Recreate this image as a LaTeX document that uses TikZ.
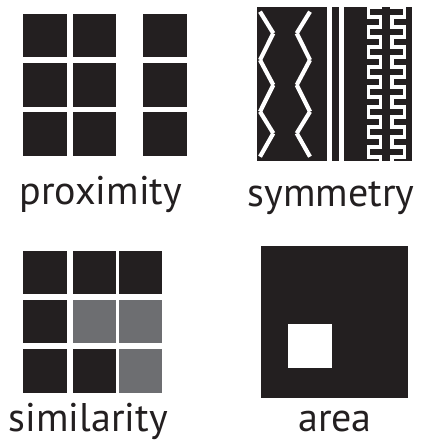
\documentclass[tikz,border=0pt]{standalone}
\usepackage{fontspec}
\setmainfont{PT Sans}
\definecolor{ink}{HTML}{231F20}
\definecolor{gry}{HTML}{6D6E71}
\begin{document}
\begin{tikzpicture}[x=1pt,y=-1pt,
  sq/.style={fill=ink},
  gsq/.style={fill=gry},
  lbl/.style={font=\fontsize{40}{44}\selectfont, text=ink, anchor=base, inner sep=0pt},
  zz/.style={draw=white, line width=4.2pt},
  mw/.style={draw=white, line width=3.7pt, line join=miter}]
\useasboundingbox (0,0) rectangle (421,441);
% proximity
\foreach \x in {23.3,72.7,143.3}
  \foreach \y in {14,63.3,112.3}
    \path[sq] (\x,\y) rectangle ++(43.5,43.4);
\node[lbl] (prox) at (100.8,204) {proximity};
% symmetry
\path[sq] (257.3,7.3) rectangle (327.3,161);
\path[sq] (332.3,7.3) rectangle (338.7,161);
\path[sq] (343.7,7.3) rectangle (411.7,161);
\foreach \ya/\yb [count=\i] in {11.7/33.3,33.3/60,60/85,85/111.7,111.7/133.3,133.3/156.7}{
  \pgfmathsetmacro{\xa}{ifthenelse(isodd(\i),260,273.3)}
  \pgfmathsetmacro{\xb}{ifthenelse(isodd(\i),273.3,260)}
  \draw[zz] (\xa,\ya) -- (\xb,\yb);
  \pgfmathsetmacro{\xc}{ifthenelse(isodd(\i),310,296.7)}
  \pgfmathsetmacro{\xd}{ifthenelse(isodd(\i),296.7,310)}
  \draw[zz] (\xc,\ya) -- (\xd,\yb);
}
\begin{scope}
  \clip (343.7,7.3) rectangle (411.7,161);
  \draw[mw] (380.5,-3.3) \foreach \k in {1,...,17} { -- ++(0,10) -- ++({ifthenelse(isodd(\k),-12,12)},0) };
  \draw[mw] (392,-3.3) \foreach \k in {1,...,17} { -- ++(0,10) -- ++({ifthenelse(isodd(\k),12.5,-12.5)},0) };
\end{scope}
\node[lbl] (symm) at (331,206) {symmetry};
% similarity
\foreach \x/\y/\s in {23.3/250.7/sq,72.7/250.7/sq,118.7/250.7/sq,
                      23.3/300/sq,72.7/300/gsq,118.7/300/gsq,
                      23.3/349.3/sq,72.7/349.3/sq,118.7/349.3/gsq}
  \path[\s] (\x,\y) rectangle ++(43.5,43.4);
\node[lbl] (simi) at (88.3,431) {similarity};
% area
\path[sq] (260.7,245.7) rectangle (408.3,397.7);
\path[fill=white] (288.3,324.3) rectangle (331.7,368);
\node[lbl] (area) at (335,431) {area};
\end{tikzpicture}
\end{document}
